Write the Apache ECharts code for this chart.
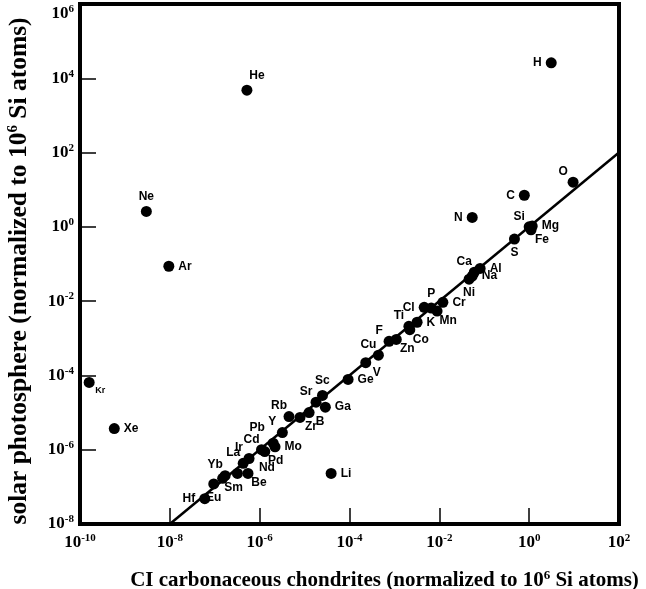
<!DOCTYPE html>
<html>
<head>
<meta charset="utf-8">
<script src="https://cdn.jsdelivr.net/npm/echarts@6/dist/echarts.min.js"></script>
<style>
  html, body { margin: 0; padding: 0; background: #fff; }
  #chart { width: 646px; height: 589px; }
</style>
</head>
<body>
<div id="chart"></div>
<script>
// element symbols
const elements = ['H', 'He', 'O', 'C', 'N', 'Ne', 'Ar', 'Si', 'Mg', 'Fe', 'S',
  'Al', 'Ca', 'Na', 'Ni', 'Cr', 'P', 'Cl', 'Mn', 'K', 'Ti', 'Co', 'Zn', 'F',
  'Cu', 'V', 'Ge', 'Sc', 'Sr', 'Ga', 'B', 'Rb', 'Zr', 'Y', 'Pb', 'Mo', 'Cd',
  'Pd', 'Ir', 'La', 'Be', 'Nd', 'Yb', 'Sm', 'Eu', 'Hf', 'Li', 'Xe', 'Kr']

// CI carbonaceous chondrites (normalized to 10^6 Si atoms)
const ciValues = [3.1, 5.2e-7, 9.5, 0.78, 0.054, 3.0e-9, 9.5e-9, 1, 1.17, 1.1, 0.47,
  0.081, 0.060, 0.054, 0.046, 0.012, 0.0066, 0.0046, 0.0089, 0.0032, 0.0021, 0.0022, 0.0011, 7.6e-4,
  4.4e-4, 2.3e-4, 9.3e-5, 2.5e-5, 1.8e-5, 2.9e-5, 1.26e-5, 4.5e-6, 7.9e-6, 3.2e-6, 2.0e-6, 2.2e-6, 1.1e-6,
  1.3e-6, 5.8e-7, 4.3e-7, 5.5e-7, 3.2e-7, 1.7e-7, 1.5e-7, 9.5e-8, 6.0e-8, 3.9e-5, 5.8e-10, 1.6e-10]

// solar photosphere (normalized to 10^6 Si atoms)
const solarValues = [2.6e4, 4.8e3, 16, 7.1, 1.8, 2.6, 0.087, 1, 1.05, 0.83, 0.47,
  0.076, 0.060, 0.047, 0.039, 0.0093, 0.0065, 0.0068, 0.0054, 0.0027, 0.0021, 0.0017, 9.3e-4, 8.3e-4,
  3.5e-4, 2.2e-4, 7.8e-5, 2.9e-5, 1.9e-5, 1.4e-5, 1.0e-5, 7.8e-6, 7.4e-6, 2.9e-6, 1.5e-6, 1.2e-6, 1.0e-6,
  8.9e-7, 5.8e-7, 4.3e-7, 2.3e-7, 2.3e-7, 2.0e-7, 1.7e-7, 1.2e-7, 4.8e-8, 2.3e-7, 3.7e-6, 6.5e-5]

// 1:1 line
const fitLine = [[1e-8, 1e-8], [1e2, 1e2]]

// tick exponents
const xTickExps = [-10, -8, -6, -4, -2, 0, 2]
const yTickExps = [-8, -6, -4, -2, 0, 2, 4, 6]

// where each label sits relative to its dot
const labelPlace = {
  H: 'left', He: 'tr', O: 'tl', C: 'left', N: 'left', Ne: 'top', Ar: 'right',
  Si: 'tl', Mg: 'right', Fe: 'br', S: 'bottom', Al: 'right', Ca: 'tl', Na: 'right',
  Ni: 'bottom', Cr: 'right', P: 'top', Cl: 'left', Mn: 'br', K: 'right', Ti: 'tl',
  Co: 'br', Zn: 'br', F: 'tl', Cu: 'tl', V: 'br', Ge: 'right', Sc: 'top', Sr: 'tl',
  Ga: 'right', B: 'br', Rb: 'tl', Zr: 'br', Y: 'tl', Pb: 'tl2', Mo: 'right', Cd: 'tl',
  Pd: 'br', Ir: 'tl', La: 'tl', Be: 'br', Nd: 'far', Yb: 'tl', Sm: 'br', Eu: 'bottom',
  Hf: 'left', Li: 'right', Xe: 'right', Kr: 'br'
}

const placeStyle = {
  left: { position: 'left', distance: 4 },
  right: { position: 'right', distance: 4 },
  top: { position: 'top', distance: 3 },
  bottom: { position: 'bottom', distance: 2 },
  tl: { position: 'top', distance: 1, offset: [-10, 2] },
  tl2: { position: 'top', distance: 6, offset: [-16, 2] },
  tr: { position: 'top', distance: 3, offset: [10, 0] },
  br: { position: 'bottom', distance: 0, offset: [11, -2] },
  far: { position: 'right', distance: 16, offset: [0, -6] }
}

const points = elements.map((name, i) => ({
  name,
  value: [ciValues[i], solarValues[i]],
  label: Object.assign({ fontSize: name === 'Kr' ? 9 : 12 }, placeStyle[labelPlace[name]])
}))

const serif = '"Liberation Serif", "Times New Roman", serif'

function powerLabel(value) {
  const exp = Math.round(Math.log10(value))
  return '{b|10}{s|' + exp + '}'
}

const tickRich = {
  b: { fontFamily: serif, fontWeight: 'bold', fontSize: 17, color: '#000' },
  s: { fontFamily: serif, fontWeight: 'bold', fontSize: 11, color: '#000', padding: [0, 0, 9, 0] }
}

const chart = echarts.init(document.getElementById('chart'))

chart.setOption({
  backgroundColor: '#fff',
  animation: false,
  grid: {
    left: 80,
    right: 27,
    top: 4,
    bottom: 65,
    show: true,
    borderColor: '#000',
    borderWidth: 4,
    containLabel: false,
    outerBoundsMode: 'none'
  },
  xAxis: {
    type: 'log',
    logBase: 10,
    min: Math.pow(10, xTickExps[0]),
    max: Math.pow(10, xTickExps[xTickExps.length - 1]),
    interval: 2,
    name: '{t|CI carbonaceous chondrites (normalized to 10}{s|6}{t| Si atoms)}',
    nameLocation: 'middle',
    nameGap: 45,
    nameTextStyle: {
      padding: [0, 0, 0, 70],
      rich: {
        t: { fontFamily: serif, fontWeight: 'bold', fontSize: 21, color: '#000' },
        s: { fontFamily: serif, fontWeight: 'bold', fontSize: 13, color: '#000', padding: [0, 0, 10, 0] }
      }
    },
    axisLine: { show: true, lineStyle: { color: '#000', width: 4 } },
    axisTick: { show: true, inside: true, length: 16, lineStyle: { color: '#000', width: 1.5 } },
    splitLine: { show: false },
    minorTick: { show: false },
    axisLabel: {
      margin: 9,
      formatter: powerLabel,
      rich: tickRich,
      showMinLabel: true,
      showMaxLabel: true
    }
  },
  yAxis: {
    type: 'log',
    logBase: 10,
    min: Math.pow(10, yTickExps[0]),
    max: Math.pow(10, yTickExps[yTickExps.length - 1]),
    interval: 2,
    name: '{t|solar photosphere (normalized to 10}{s|6}{t| Si atoms)}',
    nameLocation: 'middle',
    nameGap: 47,
    nameTextStyle: {
      padding: [0, 14, 0, 0],
      rich: {
        t: { fontFamily: serif, fontWeight: 'bold', fontSize: 25.5, color: '#000' },
        s: { fontFamily: serif, fontWeight: 'bold', fontSize: 15, color: '#000', padding: [0, 0, 12, 0] }
      }
    },
    axisLine: { show: true, lineStyle: { color: '#000', width: 4 } },
    axisTick: { show: true, inside: true, length: 16, lineStyle: { color: '#000', width: 1.5 } },
    splitLine: { show: false },
    axisLabel: {
      margin: 6,
      formatter: powerLabel,
      rich: tickRich,
      showMinLabel: true,
      showMaxLabel: true,
      verticalAlignMaxLabel: 'top'
    }
  },
  series: [
    {
      type: 'line',
      data: fitLine,
      symbol: 'none',
      lineStyle: { color: '#000', width: 2.5 },
      z: 1
    },
    {
      type: 'scatter',
      data: points,
      symbol: 'circle',
      symbolSize: 11,
      itemStyle: { color: '#000', opacity: 1 },
      label: {
        show: true,
        formatter: '{b}',
        color: '#000',
        fontFamily: '"Liberation Sans", Arial, sans-serif',
        fontWeight: 'bold'
      },
      z: 2
    }
  ]
})
</script>
</body>
</html>
